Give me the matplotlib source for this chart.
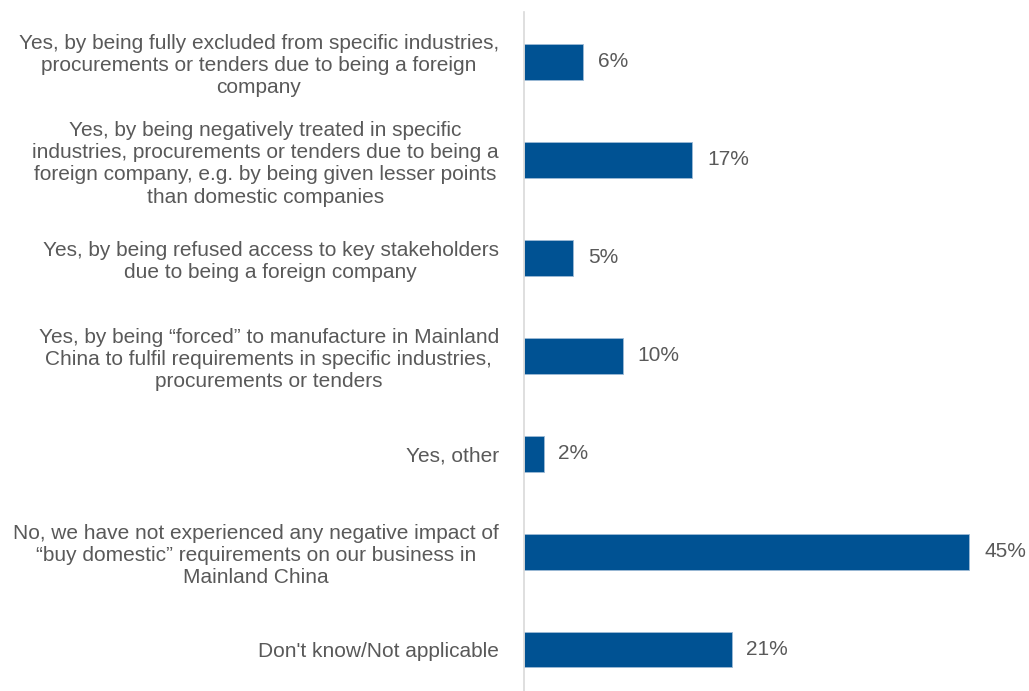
import matplotlib.pyplot as plt

# Survey answers and share of respondents (%)
categories = [
    "Yes, by being fully excluded from specific industries,\nprocurements or tenders due to being a foreign\ncompany",
    "Yes, by being negatively treated in specific\nindustries, procurements or tenders due to being a\nforeign company, e.g. by being given lesser points\nthan domestic companies",
    "Yes, by being refused access to key stakeholders\ndue to being a foreign company",
    "Yes, by being \u201cforced\u201d to manufacture in Mainland\nChina to fulfil requirements in specific industries,\nprocurements or tenders",
    "Yes, other",
    "No, we have not experienced any negative impact of\n\u201cbuy domestic\u201d requirements on our business in\nMainland China",
    "Don't know/Not applicable",
]
values = [6, 17, 5, 10, 2, 45, 21]

bar_color = "#005293"
text_color = "#595959"

plt.rcParams["font.family"] = ["Liberation Sans", "DejaVu Sans"]

fig = plt.figure(figsize=(10.29, 6.91), dpi=100)
ax = fig.add_axes([0.509, 0.0, 0.481, 0.9826])

pos = list(range(len(categories)))
ax.barh(pos, values, height=0.36, color=bar_color, edgecolor="#9dbbd6", linewidth=0.6)

for y, v in zip(pos, values):
    ax.text(v + 1.5, y, f"{v}%", va="center", ha="left", fontsize=15, color=text_color)

ax.set_xlim(0, 50)
ax.set_ylim(6.42, -0.51)
ax.set_yticks(pos)
ax.set_yticklabels(categories, fontsize=15, color=text_color, multialignment="center",
                   linespacing=1.22)
ax.tick_params(axis="y", length=0, pad=18)
ax.set_xticks([])

for side in ["top", "right", "bottom"]:
    ax.spines[side].set_visible(False)
ax.spines["left"].set_color("#d9d9d9")
ax.spines["left"].set_linewidth(1.2)

fig.savefig("out.png", dpi=100)
